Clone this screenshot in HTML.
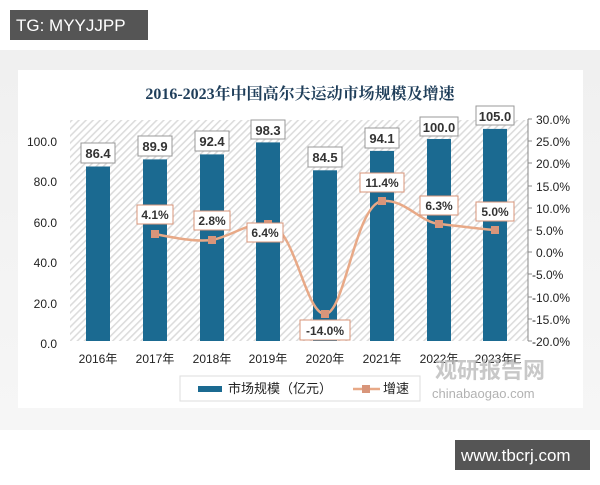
<!DOCTYPE html>
<html><head><meta charset="utf-8"><style>
body{margin:0;width:600px;height:480px;background:#fff;overflow:hidden;font-family:"Liberation Sans","Noto Sans CJK SC",sans-serif}
</style></head><body>
<svg width="600" height="480" viewBox="0 0 600 480" xmlns="http://www.w3.org/2000/svg" font-family="Liberation Sans, Noto Sans CJK SC, sans-serif">
<defs>
<pattern id="h" width="5" height="5" patternUnits="userSpaceOnUse" patternTransform="rotate(45)">
<rect width="5" height="5" fill="#fff"/><rect width="1.6" height="5" fill="#dcdcdc"/>
</pattern>
<linearGradient id="bg" x1="0" y1="0" x2="0" y2="1"><stop offset="0" stop-color="#f0f0f0"/><stop offset="1" stop-color="#f6f6f6"/></linearGradient>
</defs>
<rect x="0" y="50" width="600" height="380" fill="url(#bg)"/>
<rect x="18" y="70" width="565" height="338" fill="#fff"/>
<rect x="10" y="10" width="138" height="30" fill="#555"/>
<text x="16" y="31" font-size="17" fill="#fff">TG: MYYJJPP</text>
<rect x="455" y="440" width="135" height="30" fill="#555"/>
<text x="461" y="461" font-size="17" fill="#fff">www.tbcrj.com</text>
<text x="300" y="99" font-size="16" fill="#1f3e5a" text-anchor="middle" font-weight="bold" font-family="Liberation Serif, Noto Serif CJK SC, serif">2016-2023年中国高尔夫运动市场规模及增速</text>
<rect x="70" y="120" width="458" height="221" fill="url(#h)"/>
<g font-size="12" fill="#222" text-anchor="end">
<text x="57" y="146">100.0</text><text x="57" y="186">80.0</text><text x="57" y="227">60.0</text><text x="57" y="267">40.0</text><text x="57" y="308">20.0</text><text x="57" y="348">0.0</text>
</g>
<line x1="528" y1="119" x2="528" y2="341" stroke="#888"/>
<g font-size="12" fill="#222">
<text x="536" y="124">30.0%</text><text x="536" y="146">25.0%</text><text x="536" y="168">20.0%</text><text x="536" y="191">15.0%</text><text x="536" y="213">10.0%</text><text x="536" y="235">5.0%</text><text x="536" y="257">0.0%</text><text x="532" y="279">-5.0%</text><text x="532" y="302">-10.0%</text><text x="532" y="324">-15.0%</text><text x="532" y="346">-20.0%</text>
</g>
<g stroke="#888"><line x1="528" y1="119" x2="532" y2="119"/><line x1="528" y1="141" x2="532" y2="141"/><line x1="528" y1="163" x2="532" y2="163"/><line x1="528" y1="186" x2="532" y2="186"/><line x1="528" y1="208" x2="532" y2="208"/><line x1="528" y1="230" x2="532" y2="230"/><line x1="528" y1="252" x2="532" y2="252"/><line x1="528" y1="274" x2="532" y2="274"/><line x1="528" y1="297" x2="532" y2="297"/><line x1="528" y1="319" x2="532" y2="319"/><line x1="528" y1="341" x2="532" y2="341"/></g>
<g fill="#1b6a91">
<rect x="86" y="166.5" width="24" height="174.5"/>
<rect x="143" y="159.4" width="24" height="181.6"/>
<rect x="200" y="154.4" width="24" height="186.6"/>
<rect x="256" y="142.4" width="24" height="198.6"/>
<rect x="313" y="170.3" width="24" height="170.7"/>
<rect x="370" y="150.9" width="24" height="190.1"/>
<rect x="427" y="139" width="24" height="202"/>
<rect x="483" y="128.9" width="24" height="212.1"/>
</g>
<g fill="#fff" stroke="#999" stroke-width="1">
<rect x="81" y="143" width="34" height="20"/><rect x="138" y="136" width="34" height="20"/><rect x="195" y="131" width="34" height="20"/><rect x="251" y="120" width="34" height="19"/><rect x="308" y="147" width="34" height="20"/><rect x="365" y="128" width="34" height="20"/><rect x="420" y="117" width="38" height="19"/><rect x="476" y="106" width="38" height="19"/>
</g>
<g font-size="13" fill="#333" text-anchor="middle" font-weight="bold">
<text x="98" y="158">86.4</text><text x="155" y="151">89.9</text><text x="212" y="146">92.4</text><text x="268" y="135">98.3</text><text x="325" y="162">84.5</text><text x="382" y="143">94.1</text><text x="439" y="132">100.0</text><text x="495" y="121">105.0</text>
</g>
<path d="M155,234 C175,238 195,242 212,240 C232,236 248,222 268,224 C295,226 305,314 325,314 C345,314 355,205 382,201 C405,199 420,222 439,224 C460,226 480,229 495,230" fill="none" stroke="#e8a987" stroke-width="2.5"/>
<g fill="#d8957a"><rect x="151" y="230" width="8" height="8"/><rect x="208" y="236" width="8" height="8"/><rect x="264" y="220" width="8" height="8"/><rect x="321" y="310" width="8" height="8"/><rect x="378" y="197" width="8" height="8"/><rect x="435" y="220" width="8" height="8"/><rect x="491" y="226" width="8" height="8"/></g>
<g fill="#fff" stroke="#d8957a" stroke-width="1">
<rect x="137" y="205" width="36" height="19"/><rect x="194" y="211" width="36" height="19"/><rect x="247" y="223" width="36" height="19"/><rect x="300" y="320" width="50" height="20"/><rect x="360" y="173" width="44" height="19"/><rect x="420" y="196" width="38" height="19"/><rect x="476" y="202" width="38" height="19"/>
</g>
<g font-size="12" fill="#333" text-anchor="middle" font-weight="bold">
<text x="155" y="219">4.1%</text><text x="212" y="225">2.8%</text><text x="265" y="237">6.4%</text><text x="325" y="335">-14.0%</text><text x="382" y="187">11.4%</text><text x="439" y="210">6.3%</text><text x="495" y="216">5.0%</text>
</g>
<g font-size="12" fill="#222" text-anchor="middle">
<text x="98" y="363">2016年</text><text x="155" y="363">2017年</text><text x="212" y="363">2018年</text><text x="268" y="363">2019年</text><text x="325" y="363">2020年</text><text x="382" y="363">2021年</text><text x="439" y="363">2022年</text><text x="498" y="363">2023年E</text>
</g>
<rect x="180" y="376" width="240" height="25" fill="#fff" stroke="#ddd"/>
<rect x="198" y="386" width="24" height="6" fill="#1b6a91"/>
<text x="228" y="393" font-size="13" fill="#222">市场规模（亿元）</text>
<line x1="353" y1="389" x2="380" y2="389" stroke="#e8a987" stroke-width="2.5"/>
<rect x="362" y="385" width="8" height="8" fill="#d8957a"/>
<text x="383" y="393" font-size="13" fill="#222">增速</text>
<text x="435" y="378" font-size="22" font-weight="bold" fill="#bbb" opacity="0.8">观研报告网</text>
<text x="432" y="398" font-size="13" fill="#aaa" opacity="0.9">chinabaogao.com</text>
</svg>
</body></html>
